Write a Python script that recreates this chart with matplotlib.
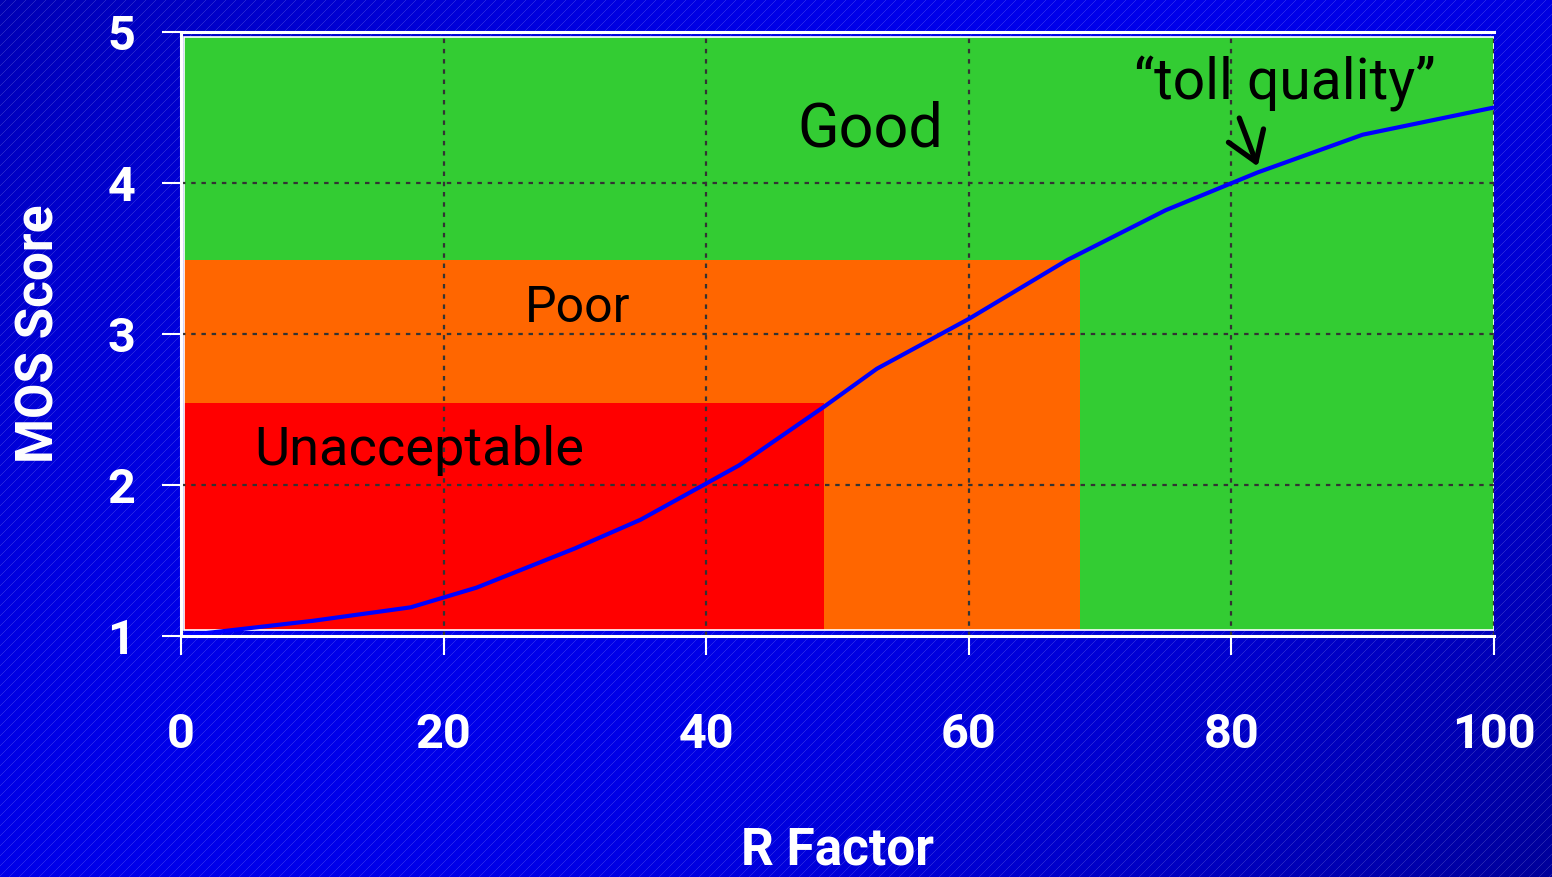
import numpy as np
import matplotlib
matplotlib.use("Agg")
import matplotlib.pyplot as plt
from matplotlib.patches import Rectangle

# R factor vs. MOS score
r_factor = [0, 3, 10, 17.5, 22.5, 30, 35, 42.5, 49, 53, 60, 67.5, 75, 82, 90, 100]
mos_score = [1.0, 1.03, 1.10, 1.19, 1.32, 1.58, 1.77, 2.13, 2.52, 2.77, 3.10, 3.49, 3.82, 4.07, 4.32, 4.50]

# quality bands: (name, R max, MOS max, colour)
band_names = ["Good", "Poor", "Unacceptable"]
band_r_max = [100, 68.5, 49]
band_mos_max = [4.97, 3.49, 2.54]
band_colors = ["#33cc33", "#ff6600", "#ff0000"]
band_floor = 1.04

x_ticks = [0, 20, 40, 60, 80, 100]
y_ticks = [1, 2, 3, 4, 5]

W, H = 1552, 877
fig = plt.figure(figsize=(W / 100, H / 100), dpi=100)

# striped blue backdrop
bg = fig.add_axes([0, 0, 1, 1], zorder=-5)
yy, xx = np.mgrid[0:H, 0:W]
u = (xx + yy) / (W + H)
b = 0.92 - 0.32 * ((u - 0.45) / 0.55) ** 2
base = np.stack([np.zeros_like(b), np.zeros_like(b), b], axis=-1)
d = (xx + yy) % 10
s = np.clip(1 - np.abs(d - 5) / 0.9, 0, 1) * 0.15
rgb = base * (1 - s[..., None]) + s[..., None]
bg.imshow(rgb, aspect="auto", interpolation="nearest")
bg.axis("off")

ax = fig.add_axes([181 / W, 241 / H, (1494 - 181) / W, (636 - 32) / H])
ax.patch.set_alpha(0)
ax.set_xlim(0, 100)
ax.set_ylim(1, 5)

for rmax, mmax, col in zip(band_r_max, band_mos_max, band_colors):
    ax.add_patch(Rectangle((0.25, band_floor), rmax - 0.25, mmax - band_floor,
                           facecolor=col, edgecolor="none", zorder=1))
ax.add_patch(Rectangle((0.25, band_floor), band_r_max[0] - 0.25, band_mos_max[0] - band_floor,
                       facecolor="none", edgecolor="white", lw=1.2, zorder=1.2))

ax.set_axisbelow("line")
ax.grid(True, color="#333333", linestyle=(0, (2, 2.6)), linewidth=1.6)

ax.plot(r_factor, mos_score, color="#0000ff", lw=3, zorder=3, solid_capstyle="round")

label_font = "Roboto"
ax.text(52.5, 4.24, band_names[0], fontsize=44, family=label_font, ha="center", va="baseline", zorder=4)
ax.text(30.2, 3.08, band_names[1], fontsize=36, family=label_font, ha="center", va="baseline", zorder=4)
ax.text(5.6, 2.13, band_names[2], fontsize=39, family=label_font, ha="left", va="baseline", zorder=4)
ax.text(84.1, 4.556, "\u201ctoll quality\u201d", fontsize=41, family=label_font,
        ha="center", va="baseline", zorder=4)
ax.annotate("", xy=(82.0, 4.11), xytext=(80.6, 4.43),
            arrowprops=dict(arrowstyle="->, head_length=0.45, head_width=0.3",
                            lw=3.8, color="black", mutation_scale=45, shrinkA=0, shrinkB=0),
            zorder=4)

ax.set_xticks(x_ticks)
ax.set_yticks(y_ticks)
ax.set_xticklabels([str(t) for t in x_ticks])
ax.set_yticklabels([str(t) for t in y_ticks])
for lab in ax.get_xticklabels() + ax.get_yticklabels():
    lab.set_fontfamily("Roboto")
    lab.set_fontweight("bold")
    lab.set_fontsize(35)
    lab.set_color("white")
ax.tick_params(axis="both", colors="white", length=14, width=1.5, direction="out")
ax.tick_params(axis="x", pad=41)
ax.tick_params(axis="y", pad=19)

for side in ["left", "bottom", "top"]:
    ax.spines[side].set_color("white")
    ax.spines[side].set_linewidth(2.2)
    ax.spines[side].set_zorder(5)
ax.spines["right"].set_visible(False)

ax.set_xlabel("R Factor", fontsize=37, fontweight="bold", family="Roboto", color="white", labelpad=48)
ax.set_ylabel("MOS Score", fontsize=37, fontweight="bold", family="Roboto", color="white", labelpad=31)

fig.savefig("out.png", dpi=100)
